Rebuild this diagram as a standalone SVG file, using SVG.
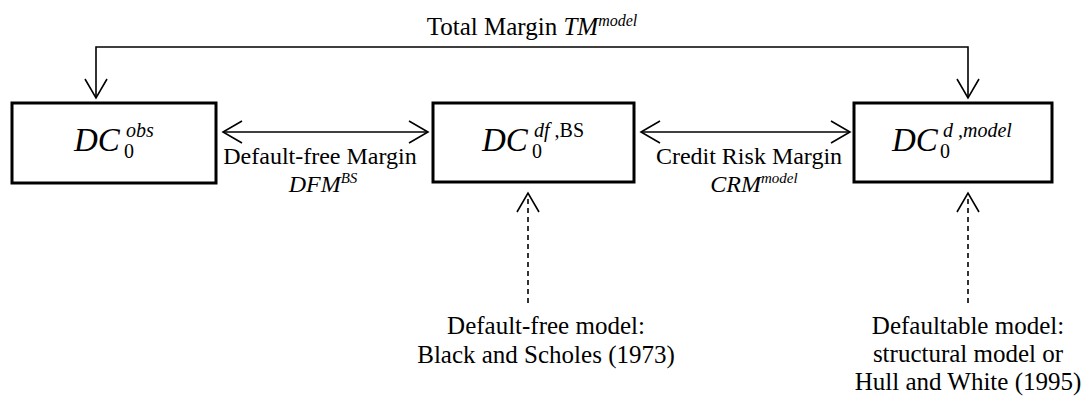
<svg xmlns="http://www.w3.org/2000/svg" width="1088" height="398" viewBox="0 0 1088 398" font-family="'Liberation Serif', Tinos, 'Times New Roman', 'DejaVu Serif', serif">
<style>
text{font-family:'Liberation Serif',Tinos,'Times New Roman','DejaVu Serif',serif;fill:#000}
.m{font-size:24px}
.b{font-size:25px}
.i{font-style:italic}
.box{fill:#fff;stroke:#000;stroke-width:3}
.ln{fill:none;stroke:#000;stroke-width:1.6}
.dash{fill:none;stroke:#000;stroke-width:1.6;stroke-dasharray:5,4}
</style>
<defs>
<marker id="v" markerUnits="userSpaceOnUse" markerWidth="24" markerHeight="26" refX="20" refY="12" viewBox="0 0 24 26" orient="auto-start-reverse">
<path d="M1,1 L20,12 L1,23" fill="none" stroke="#000" stroke-width="1.6"/>
</marker>
</defs>
<g id="connectors">
<path class="ln" d="M96,98 V47 H968 V98" stroke-width="2" marker-end="url(#v)" marker-start="url(#v)"/>
<line class="ln" x1="223" y1="132" x2="428" y2="132" marker-start="url(#v)" marker-end="url(#v)"/>
<line class="ln" x1="641" y1="132" x2="850" y2="132" marker-start="url(#v)" marker-end="url(#v)"/>
<line class="dash" x1="528" y1="303" x2="528" y2="193" marker-end="url(#v)"/>
<line class="dash" x1="968" y1="303" x2="968" y2="193" marker-end="url(#v)"/>
</g>
<g id="labels">
<text class="b" x="532" y="35" text-anchor="middle">Total Margin <tspan class="i">TM</tspan><tspan class="i" font-size="16" dy="-9">model</tspan></text>
<text class="m" x="320" y="164" text-anchor="middle">Default-free Margin</text>
<text class="m" x="323" y="192" text-anchor="middle"><tspan class="i">DFM</tspan><tspan class="i" font-size="15" dy="-9">BS</tspan></text>
<text class="m" x="749" y="164" text-anchor="middle">Credit Risk Margin</text>
<text class="m" x="754" y="192" text-anchor="middle"><tspan class="i">CRM</tspan><tspan class="i" font-size="15" dy="-9">model</tspan></text>
</g>
<g id="node-obs">
<rect class="box" x="12" y="103" width="204" height="80"/>
<text class="i" x="74" y="151" font-size="33">DC</text>
<text x="124" y="158" font-size="20">0</text>
<text class="i" x="126" y="137" font-size="20">obs</text>
</g>
<g id="node-df">
<rect class="box" x="433" y="103" width="201" height="79"/>
<text class="i" x="482" y="151" font-size="33">DC</text>
<text x="532" y="158" font-size="20">0</text>
<text x="534" y="137" font-size="20"><tspan class="i">df</tspan> ,BS</text>
</g>
<g id="node-d">
<rect class="box" x="854" y="103" width="198" height="79"/>
<text class="i" x="892" y="151" font-size="33">DC</text>
<text x="940" y="158" font-size="20">0</text>
<text class="i" x="943" y="137" font-size="20">d ,model</text>
</g>
<g id="node-bs">
<text class="b" x="546" y="334" text-anchor="middle">Default-free model:</text>
<text class="b" x="546" y="363" text-anchor="middle">Black and Scholes (1973)</text>
</g>
<g id="node-hw">
<text class="b" x="968" y="334" text-anchor="middle">Defaultable model:</text>
<text class="b" x="968" y="362" text-anchor="middle">structural model or</text>
<text class="b" x="968" y="390" text-anchor="middle">Hull and White (1995)</text>
</g>
</svg>
